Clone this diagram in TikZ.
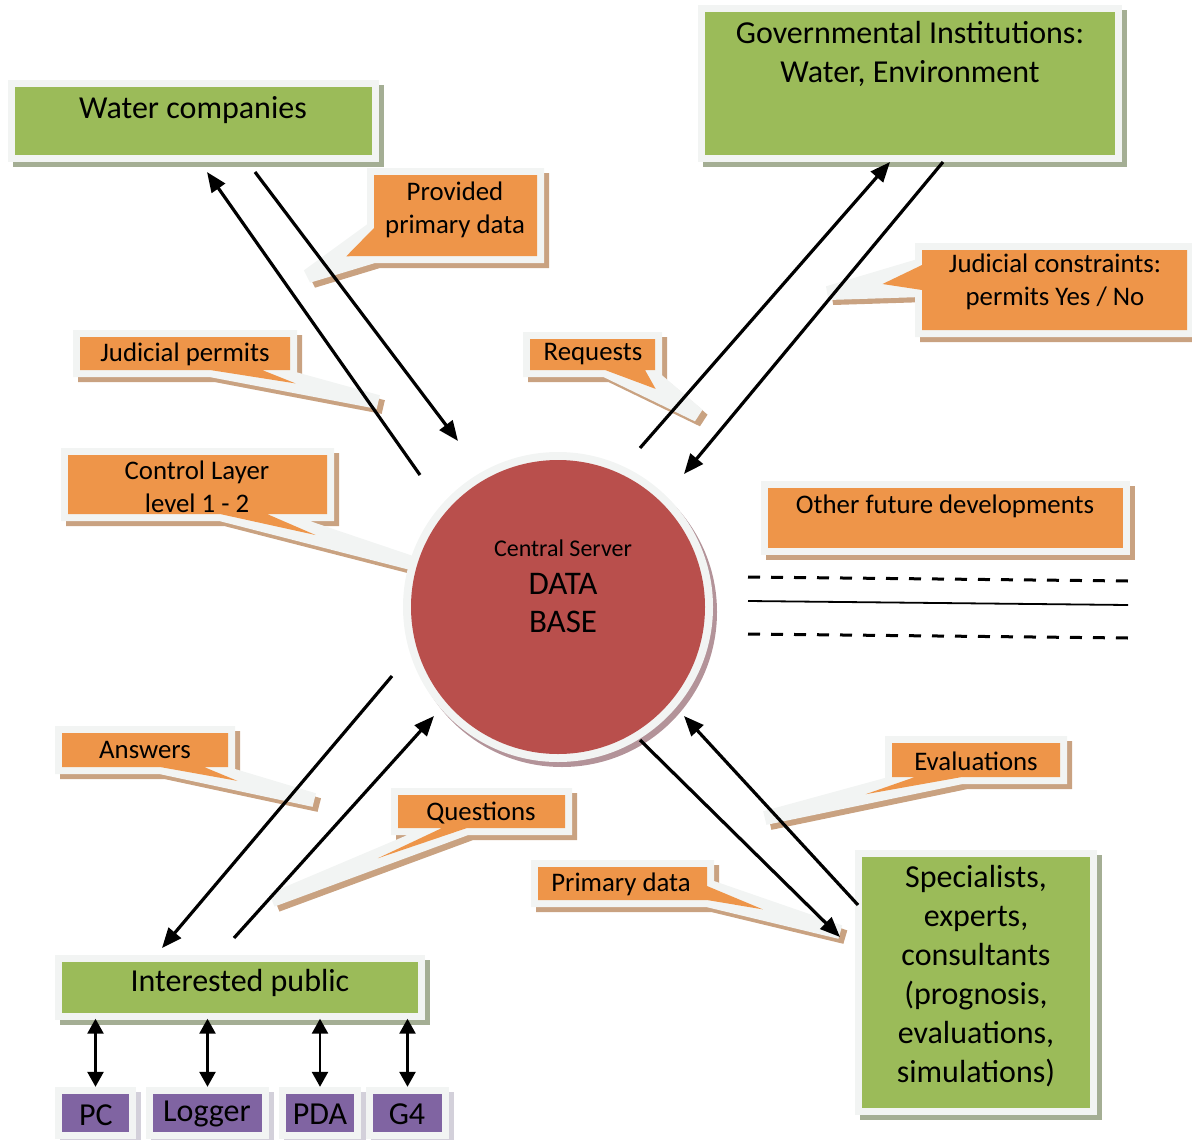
\documentclass[tikz,border=0pt]{standalone}
\usepackage{fontspec}
\setmainfont{Carlito}
\usetikzlibrary{arrows.meta,calc}

\definecolor{boxgreen}{HTML}{9BBB59}
\definecolor{greenshade}{HTML}{A4AE94}
\definecolor{calloutorange}{HTML}{EE9549}
\definecolor{orangeshade}{HTML}{C9A281}
\definecolor{serverred}{HTML}{B94F4C}
\definecolor{redshade}{HTML}{B39399}
\definecolor{devpurple}{HTML}{8064A2}
\definecolor{purpleshade}{HTML}{D3D0DA}
\definecolor{rim}{HTML}{F2F4F3}

\newcommand\bigtxt{\fontsize{32}{39}\selectfont}
\newcommand\midtxt{\fontsize{26.8}{33}\selectfont}
\newcommand\srvtxt{\fontsize{24}{30}\selectfont}
\newcommand\dbtxt{\fontsize{33}{38}\selectfont}

\tikzset{
  framed/.style 2 args={rectangle, fill=#1, inner sep=0pt,
    preaction={draw=#2, fill=#2, line width=14pt,
      transform canvas={xshift=5pt,yshift=-5pt}},
    preaction={draw=rim, line width=14pt}},
  bubbleback/.style={draw=rim, fill=rim, line width=14pt, miter limit=2,
    preaction={draw=orangeshade, fill=orangeshade, line width=14pt,
      miter limit=2, transform canvas={xshift=5pt,yshift=-5pt}}},
  txt/.style={inner sep=0pt, align=center, text=black},
  flow/.style={line width=3.2pt, -{Triangle[length=20pt,width=16pt]}},
  dflow/.style={line width=2.6pt,
    {Triangle[length=15pt,width=16pt]}-{Triangle[length=15pt,width=16pt]}},
  futureline/.style={line width=3pt, dash pattern=on 12pt off 11pt},
}

% speech bubble: #1 outline up to the first wedge base point #2,
% wedge tip #3, second base point #4, rest of the outline #5
\newcommand\bubble[5]{%
  \path[bubbleback] #1 -- #2 -- #3 -- #4 -- #5;
  \path[fill=calloutorange] #1 -- #2 -- ($#2!.5!#4!0.42!#3$) -- #4 -- #5;
}

\begin{document}
\begin{tikzpicture}[x=1pt,y=-1pt]
\useasboundingbox (0,0) rectangle (1192,1140);

% ---- callouts (speech-bubble labels) ----
\bubble{(374,175) -- (537,175) -- (537,256)}{(374,256)}{(308,276)}{(374,228)}{cycle}
\node[txt,font=\midtxt] (providedT) at (455,210) {Provided\\primary data};

\bubble{(80,337) -- (290,337) -- (290,370)}{(262,370)}{(378,402)}{(210,370)}{(80,370) -- cycle}
\node[txt,font=\midtxt] (permitsT) at (185,354) {Judicial permits};

\bubble{(530,339) -- (655,339) -- (655,370)}{(645,370)}{(698,415)}{(605,370)}{(530,370) -- cycle}
\node[txt,font=\midtxt] (requestsT) at (593,354) {Requests};

\bubble{(922,250) -- (1187,250) -- (1187,330) -- (922,330)}{(922,290)}{(828,293)}{(922,265)}{cycle}
\node[txt,font=\midtxt] (constraintsT) at (1055,282) {Judicial constraints:\\permits Yes / No};

\bubble{(68,455) -- (327,455) -- (327,514)}{(267,514)}{(415,564)}{(220,514)}{(68,514) -- cycle}
\node[txt,font=\midtxt] (controlT) at (197,487) {Control Layer\\level 1 - 2};

\bubble{(62,733) -- (228,733) -- (228,767)}{(204,767)}{(314,800)}{(160,767)}{(62,767) -- cycle}
\node[txt,font=\midtxt] (answersT) at (145,750) {Answers};

\bubble{(398,795) -- (565,795) -- (565,828)}{(467,828)}{(272,900)}{(442,828)}{(398,828) -- cycle}
\node[txt,font=\midtxt] (questionsT) at (481,813) {Questions};

\bubble{(538,867) -- (707,867)}{(707,886)}{(840,932)}{(707,900)}{(538,900) -- cycle}
\node[txt,font=\midtxt] (primaryT) at (621,884) {Primary data};

\bubble{(892,743) -- (1060,743) -- (1060,777)}{(962,777)}{(765,818)}{(915,777)}{(892,777) -- cycle}
\node[txt,font=\midtxt] (evaluationsT) at (976,761) {Evaluations};

% ---- future developments ----
\node[framed={calloutorange}{orangeshade}, minimum width=355pt, minimum height=60pt]
  (future) at (945.5,518) {};
\node[txt,font=\midtxt] (futureT) at (945,506) {Other future developments};
\draw[futureline] (748,577) -- (1128,581);
\draw[line width=1.8pt] (748,601) -- (1128,605);
\draw[futureline] (748,634) -- (1128,638);

% ---- actors ----
\node[framed={boxgreen}{greenshade}, minimum width=357pt, minimum height=68pt]
  (water) at (193.5,121) {};
\node[txt,font=\bigtxt] (waterT) at (193,110) {Water companies};

\node[framed={boxgreen}{greenshade}, minimum width=410pt, minimum height=143pt]
  (gov) at (910,83.5) {};
\node[txt,font=\bigtxt] (govT) at (910,54) {Governmental Institutions:\\Water, Environment};

\node[framed={boxgreen}{greenshade}, minimum width=228pt, minimum height=251pt]
  (spec) at (976,982.5) {};
\node[txt,font=\bigtxt] (specT) at (976,976) {Specialists,\\experts,\\consultants\\(prognosis,\\evaluations,\\simulations)};

\node[framed={boxgreen}{greenshade}, minimum width=356pt, minimum height=51pt]
  (public) at (240,987) {};
\node[txt,font=\bigtxt] (publicT) at (240,983) {Interested public};

% ---- devices ----
\node[framed={devpurple}{purpleshade}, minimum width=67pt, minimum height=38pt]
  (pc) at (95.5,1113) {};
\node[txt,font=\bigtxt] (pcT) at (96,1115) {PC};
\node[framed={devpurple}{purpleshade}, minimum width=109pt, minimum height=38pt]
  (logger) at (207.5,1113) {};
\node[txt,font=\bigtxt] (loggerT) at (207,1114) {Logger};
\node[framed={devpurple}{purpleshade}, minimum width=68pt, minimum height=38pt]
  (pda) at (320,1113) {};
\node[txt,font=\bigtxt] (pdaT) at (320,1114) {PDA};
\node[framed={devpurple}{purpleshade}, minimum width=69pt, minimum height=38pt]
  (gfour) at (407.5,1113) {};
\node[txt,font=\bigtxt] (gfourT) at (407,1114) {G4};

\foreach \d in {pc,logger,pda,gfour}
  \draw[dflow] ([yshift=7pt]\d.north) -- ([yshift=-6pt]\d.north |- public.south);

% ---- central server ----
\node[circle, minimum size=294pt, inner sep=0pt, fill=serverred,
  preaction={draw=redshade, fill=redshade, line width=16pt,
    transform canvas={xshift=4pt,yshift=-5pt}},
  preaction={draw=rim, line width=16pt}] (server) at (558,607) {};
\node[txt,font=\srvtxt] (serverT) at (563,548) {Central Server};
\node[txt,font=\dbtxt] (dbT) at (563,603) {DATA\\BASE};

% ---- information flows ----
\coordinate (wOut) at (420,475);  \coordinate (wIn) at (207,172);
\coordinate (wOut2) at (255,172); \coordinate (wIn2) at (458,441);
\coordinate (gOut) at (640,448);  \coordinate (gIn) at (890,162);
\coordinate (gOut2) at (943,162); \coordinate (gIn2) at (684,474);
\coordinate (pOut) at (392,676);  \coordinate (pIn) at (162,948);
\coordinate (pOut2) at (234,938); \coordinate (pIn2) at (434,716);
\coordinate (sOut) at (640,740);  \coordinate (sIn) at (840,937);
\coordinate (sOut2) at (858,905); \coordinate (sIn2) at (684,716);

\draw[flow] (wOut) -- (wIn);
\draw[flow] (wOut2) -- (wIn2);
\draw[flow] (gOut) -- (gIn);
\draw[flow] (gOut2) -- (gIn2);
\draw[flow] (pOut) -- (pIn);
\draw[flow] (pOut2) -- (pIn2);
\draw[flow] (sOut) -- (sIn);
\draw[flow] (sOut2) -- (sIn2);
\end{tikzpicture}
\end{document}
